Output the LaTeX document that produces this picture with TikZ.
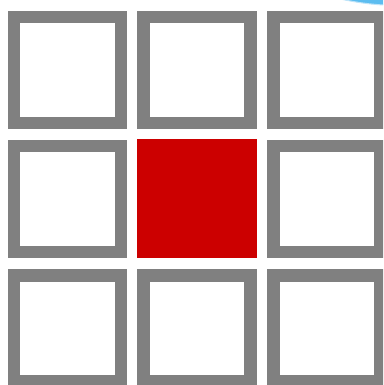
\documentclass[tikz,border=0pt]{standalone}
\begin{document}
\begin{tikzpicture}[x=1pt,y=-1pt,
  cell/.style={draw=cellgray,fill=white,line width=12.5pt,minimum width=107pt,minimum height=106pt,inner sep=0pt,outer sep=0pt},
  hot/.style={fill=hotred,draw=none,minimum width=120pt,minimum height=119pt,inner sep=0pt,outer sep=0pt}]
\definecolor{cellgray}{HTML}{808080}
\definecolor{hotred}{HTML}{CC0000}
\definecolor{skyblue}{HTML}{5CBDF0}
\useasboundingbox (0,0) rectangle (383,385);
\fill[white] (0,0) rectangle (383,385);
\clip (0,0) rectangle (383,385);
\fill[skyblue] (400,-267.5) circle[radius=273];
\draw[white!60!skyblue,line width=1pt] (400,-267.5) circle[radius=273];
\node[cell] (c11) at (67.5,70) {};
\node[cell] (c12) at (197,70) {};
\node[cell] (c13) at (327,70) {};
\node[cell] (c21) at (67.5,199) {};
\node[hot]  (c22) at (197,198.5) {};
\node[cell] (c23) at (327,199) {};
\node[cell] (c31) at (67.5,328.5) {};
\node[cell] (c32) at (197,328.5) {};
\node[cell] (c33) at (327,328.5) {};
\end{tikzpicture}
\end{document}
